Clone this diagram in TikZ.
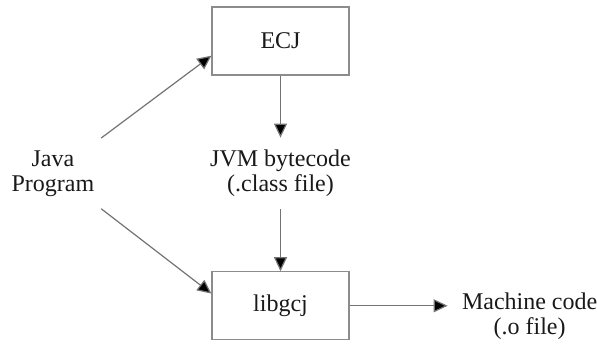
\documentclass[tikz,border=0pt]{standalone}
\usepackage{fontspec}
\setmainfont{Liberation Serif}
\usetikzlibrary{arrows.meta,positioning}

\begin{document}
\begin{tikzpicture}[node distance=31pt and 49pt,
  every node/.style={font=\fontsize{12}{12.5}\selectfont, text=black!90},
  stage/.style={draw=black!45, line width=0.6pt, minimum width=68.5pt, minimum height=34pt},
  info/.style={align=center, inner xsep=3.3pt, inner ysep=6pt},
  flow/.style={draw=black!55, line width=0.6pt, -{Triangle[length=7pt,width=6.5pt,fill=black]}}]
\useasboundingbox (0,0) rectangle (298.5pt,-171.5pt);
\node[stage] (ecj) at (140.25pt,-20.5pt) {ECJ};
\node[info] (bytecode) [below=of ecj] {JVM bytecode\\(.class file)};
\node[stage] (libgcj) [below=of bytecode] {libgcj};
\node[info] (java) [left=51pt of bytecode] {Java\\Program};
\node[info, inner xsep=7pt] (machine) [right=of libgcj, yshift=-5pt] {Machine code\\(.o file)};
\draw[flow] (java.north east) -- (ecj.192);
\draw[flow] (java.south east) -- (libgcj.170);
\draw[flow] (ecj) -- (bytecode);
\draw[flow] (bytecode) -- (libgcj);
\draw[flow] (libgcj.east) -- (libgcj.east -| machine.west);
\end{tikzpicture}
\end{document}
